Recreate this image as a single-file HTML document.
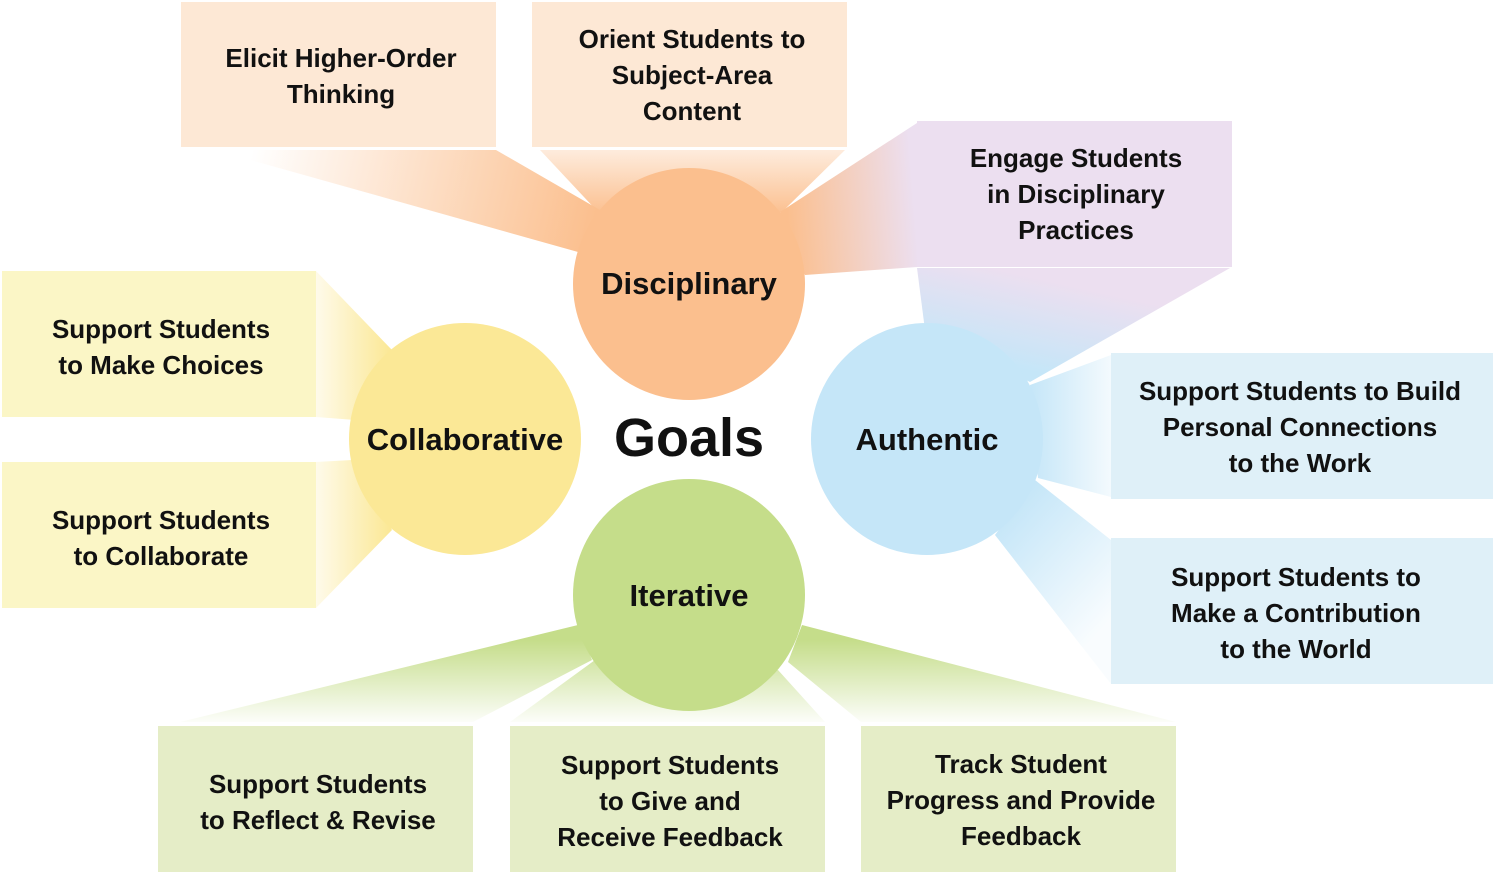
<!DOCTYPE html>
<html><head><meta charset="utf-8"><style>
body{margin:0;background:#fff;}
svg{display:block;}
text{font-family:"Liberation Sans",sans-serif;font-weight:bold;fill:#111;text-anchor:middle;}
.b{font-size:26px;}
.c{font-size:31px;}
</style></head><body>
<svg width="1495" height="890" viewBox="0 0 1495 890">
<defs>
<linearGradient id="g1" gradientUnits="userSpaceOnUse" x1="250" y1="160" x2="590" y2="240"><stop offset="0" stop-color="#fbbf8e" stop-opacity="0"/><stop offset="1" stop-color="#fbbf8e"/></linearGradient>
<linearGradient id="g2" gradientUnits="userSpaceOnUse" x1="690" y1="150" x2="690" y2="215"><stop offset="0" stop-color="#fbbf8e" stop-opacity="0.3"/><stop offset="1" stop-color="#fbbf8e"/></linearGradient>
<linearGradient id="g3" gradientUnits="userSpaceOnUse" x1="917" y1="240" x2="790" y2="250"><stop offset="0" stop-color="#ecdff0"/><stop offset="1" stop-color="#fbbf8e"/></linearGradient>
<linearGradient id="g4" gradientUnits="userSpaceOnUse" x1="1000" y1="270" x2="980" y2="360"><stop offset="0" stop-color="#ecdff0"/><stop offset="1" stop-color="#c5e6f8"/></linearGradient>
<linearGradient id="g5" gradientUnits="userSpaceOnUse" x1="1111" y1="0" x2="1030" y2="0"><stop offset="0" stop-color="#c5e6f8" stop-opacity="0.2"/><stop offset="1" stop-color="#c5e6f8"/></linearGradient>
<linearGradient id="g6" gradientUnits="userSpaceOnUse" x1="1111" y1="620" x2="1000" y2="520"><stop offset="0" stop-color="#c5e6f8" stop-opacity="0.1"/><stop offset="1" stop-color="#c5e6f8"/></linearGradient>
<linearGradient id="g7" gradientUnits="userSpaceOnUse" x1="316" y1="0" x2="390" y2="0"><stop offset="0" stop-color="#fbe896" stop-opacity="0.2"/><stop offset="1" stop-color="#fbe896"/></linearGradient>
<linearGradient id="g8" gradientUnits="userSpaceOnUse" x1="0" y1="722" x2="0" y2="640"><stop offset="0" stop-color="#c5dd8a" stop-opacity="0.05"/><stop offset="1" stop-color="#c5dd8a"/></linearGradient>
</defs>
<polygon points="215,150 496,150 600,210 578,252" fill="url(#g1)"/>
<polygon points="540,150 845,150 782,212 598,212" fill="url(#g2)"/>
<polygon points="917,123 917,267 805,275 780,212" fill="url(#g3)"/>
<polygon points="917,268 1230,268 1030,382 925,330" fill="url(#g4)"/>
<polygon points="1111,355 1111,497 1038,478 1030,385" fill="url(#g5)"/>
<polygon points="1111,540 1111,684 995,535 1035,480" fill="url(#g6)"/>
<polygon points="316,271 316,417 355,420 392,350" fill="url(#g7)"/>
<polygon points="316,462 316,608 392,530 352,460" fill="url(#g7)"/>
<polygon points="180,722 473,722 592,660 578,625" fill="url(#g8)"/>
<polygon points="510,722 825,722 778,670 595,660" fill="url(#g8)"/>
<polygon points="861,722 1176,722 802,625 788,662" fill="url(#g8)"/>

<rect x="181" y="2" width="315" height="145" fill="#fde8d5"/>
<rect x="532" y="2" width="315" height="145" fill="#fde8d5"/>
<rect x="917" y="121" width="315" height="146" fill="#ecdff0"/>
<rect x="1111" y="353" width="382" height="146" fill="#dff0f8"/>
<rect x="1111" y="538" width="382" height="146" fill="#dff0f8"/>
<rect x="2" y="271" width="314" height="146" fill="#fbf6c6"/>
<rect x="2" y="462" width="314" height="146" fill="#fbf6c6"/>
<rect x="158" y="726" width="315" height="146" fill="#e5edc7"/>
<rect x="510" y="726" width="315" height="146" fill="#e5edc7"/>
<rect x="861" y="726" width="315" height="146" fill="#e5edc7"/>

<circle cx="689" cy="284" r="116" fill="#fbbf8e"/>
<circle cx="465" cy="439" r="116" fill="#fbe896"/>
<circle cx="927" cy="439" r="116" fill="#c5e6f8"/>
<circle cx="689" cy="595" r="116" fill="#c5dd8a"/>

<text class="c" x="689" y="294">Disciplinary</text>
<text class="c" x="465" y="450">Collaborative</text>
<text class="c" x="927" y="450">Authentic</text>
<text class="c" x="689" y="606">Iterative</text>
<text x="689" y="456" style="font-size:54px">Goals</text>

<text class="b" x="341" y="67">Elicit Higher-Order</text>
<text class="b" x="341" y="103">Thinking</text>
<text class="b" x="692" y="48">Orient Students to</text>
<text class="b" x="692" y="84">Subject-Area</text>
<text class="b" x="692" y="120">Content</text>
<text class="b" x="1076" y="167">Engage Students</text>
<text class="b" x="1076" y="203">in Disciplinary</text>
<text class="b" x="1076" y="239">Practices</text>
<text class="b" x="1300" y="400">Support Students to Build</text>
<text class="b" x="1300" y="436">Personal Connections</text>
<text class="b" x="1300" y="472">to the Work</text>
<text class="b" x="1296" y="586">Support Students to</text>
<text class="b" x="1296" y="622">Make a Contribution</text>
<text class="b" x="1296" y="658">to the World</text>
<text class="b" x="161" y="338">Support Students</text>
<text class="b" x="161" y="374">to Make Choices</text>
<text class="b" x="161" y="529">Support Students</text>
<text class="b" x="161" y="565">to Collaborate</text>
<text class="b" x="318" y="793">Support Students</text>
<text class="b" x="318" y="829">to Reflect &amp; Revise</text>
<text class="b" x="670" y="774">Support Students</text>
<text class="b" x="670" y="810">to Give and</text>
<text class="b" x="670" y="846">Receive Feedback</text>
<text class="b" x="1021" y="773">Track Student</text>
<text class="b" x="1021" y="809">Progress and Provide</text>
<text class="b" x="1021" y="845">Feedback</text>
</svg>
</body></html>
